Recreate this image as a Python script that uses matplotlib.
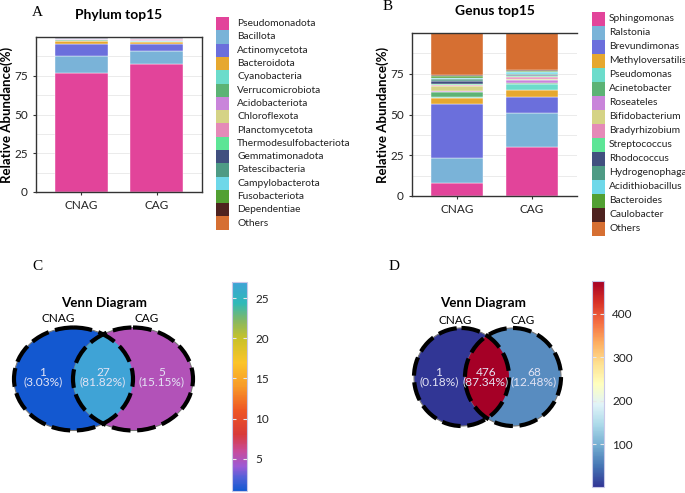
import numpy as np
import matplotlib
matplotlib.use("Agg")
import matplotlib.pyplot as plt
from matplotlib.patches import Ellipse, Rectangle
from matplotlib.colors import LinearSegmentedColormap, Normalize
from matplotlib.cm import ScalarMappable

plt.rcParams['font.family'] = ['Lato', 'DejaVu Sans']

# ---- data ----
groups = ['CNAG', 'CAG']

phylum_names = ['Pseudomonadota', 'Bacillota', 'Actinomycetota', 'Bacteroidota',
                'Cyanobacteria', 'Verrucomicrobiota', 'Acidobacteriota', 'Chloroflexota',
                'Planctomycetota', 'Thermodesulfobacteriota', 'Gemmatimonadota',
                'Patescibacteria', 'Campylobacterota', 'Fusobacteriota', 'Dependentiae', 'Others']
phylum_cnag = [76.5, 11.3, 7.5, 2.1, 0.3, 0.6, 0.2, 0.2, 0.2, 0.1, 0.3, 0.2, 0.1, 0.1, 0.1, 0.2]
phylum_cag = [82.9, 8.1, 4.3, 1.2, 0.8, 0.4, 0.3, 0.2, 0.4, 0.3, 0.3, 0.2, 0.2, 0.1, 0.2, 0.1]

genus_names = ['Sphingomonas', 'Ralstonia', 'Brevundimonas', 'Methyloversatilis',
               'Pseudomonas', 'Acinetobacter', 'Roseateles', 'Bifidobacterium',
               'Bradyrhizobium', 'Streptococcus', 'Rhodococcus', 'Hydrogenophaga',
               'Acidithiobacillus', 'Bacteroides', 'Caulobacter', 'Others']
genus_cnag = [8.0, 15.3, 32.9, 3.9, 0.7, 2.8, 0.6, 3.2, 0.6, 0.5, 1.8, 1.5, 0.5, 1.2, 0.6, 25.9]
genus_cag = [29.9, 21.2, 9.6, 4.5, 3.3, 0.6, 1.9, 0.5, 1.5, 0.7, 0.4, 0.6, 1.3, 0.5, 1.0, 22.5]

# venn: only left, shared, only right
venn_c_counts = [1, 27, 5]
venn_d_counts = [1, 476, 68]

taxa_colors = ['#E2449A', '#7AB3D8', '#6B6FDC', '#E6A82F', '#6CDCCB', '#5CB375',
               '#C985DA', '#D5D386', '#E58AB8', '#5DE596', '#41507F', '#4E9B85',
               '#6ED8E9', '#52A033', '#4E2320', '#D66F32']

W, H = 685, 493
fig = plt.figure(figsize=(W / 100, H / 100), dpi=100)


def px_axes(x0, y0, x1, y1):
    # axes from pixel box (top-left origin)
    return fig.add_axes([x0 / W, 1 - y1 / H, (x1 - x0) / W, (y1 - y0) / H])


def px_text(x, y, s, **kw):
    fig.text(x / W, 1 - y / H, s, **kw)


def stacked_panel(box, names, cnag, cag, title, label_x, right_spine=True):
    ax = px_axes(*box)
    x = np.arange(1, len(groups) + 1)
    data = np.array([cnag, cag]).T
    bottom = np.zeros(len(groups))
    for i in range(len(names)):
        ax.bar(x, data[i], width=0.7, bottom=bottom, color=taxa_colors[i],
               edgecolor='#FFFFFF', linewidth=0.3)
        bottom += data[i]
    ax.set_xlim(0.4, 2.6)
    ax.set_ylim(0, 100)
    ax.set_xticks(x)
    ax.set_xticklabels(groups, fontsize=8.5)
    ax.set_yticks([0, 25, 50, 75])
    ax.set_yticks([12.5, 37.5, 62.5, 87.5], minor=True)
    ax.tick_params(which='major', length=2.5, color='#333333', labelsize=8.5,
                   labelcolor='#222222')
    ax.tick_params(which='minor', length=0)
    ax.grid(axis='y', which='both', color='#EBEBEB', lw=0.7)
    ax.set_axisbelow(True)
    for s in ax.spines.values():
        s.set_color('#333333')
        s.set_linewidth(1.0)
    ax.spines['right'].set_visible(right_spine)
    ax.set_ylabel('Relative Abundance(%)', fontsize=9.5, fontweight='bold')
    # label_x is the pixel column where the rotated label ends on the right
    ax.yaxis.set_label_coords((label_x - box[0]) / (box[2] - box[0]), 0.5)
    ax.set_title(title, fontsize=10, fontweight='bold', pad=13)
    return ax


def legend_block(names, x0, y0, step, size, text_x):
    for i, name in enumerate(names):
        y = y0 + i * step
        fig.add_artist(Rectangle((x0 / W, 1 - (y + step) / H), size / W, step / H,
                                 transform=fig.transFigure, facecolor=taxa_colors[i],
                                 edgecolor='none'))
        px_text(text_x, y + step / 2, name, fontsize=7.4, va='center', ha='left',
                color='#222222')


# ---- A: phylum ----
stacked_panel((36, 37, 202, 192), phylum_names, phylum_cnag, phylum_cag, 'Phylum top15', 13)
legend_block(phylum_names, 216, 17, 13.3, 13, 237)
px_text(37, 12, 'A', fontsize=11, family='Liberation Serif', ha='center', va='center')

# ---- B: genus ----
stacked_panel((412, 33, 577, 196), genus_names, genus_cnag, genus_cag, 'Genus top15', 389,
              right_spine=False)
legend_block(genus_names, 592, 11.7, 14, 12.5, 609)
px_text(388, 7, 'B', fontsize=11, family='Liberation Serif', ha='center', va='center')

# ---- colormaps ----
cmap_c = LinearSegmentedColormap.from_list('venn_c', [
    (0.0, '#1358D0'), (0.06, '#4E60D8'), (0.115, '#9B5AD6'), (0.19, '#C84B9A'),
    (0.27, '#D83A3A'), (0.385, '#EE5526'), (0.5, '#F89A2A'), (0.615, '#FBC42A'),
    (0.73, '#C9C22A'), (0.81, '#8AB85E'), (0.9, '#2FB9B8'), (1.0, '#3FA3D6')])
cmap_d = plt.get_cmap('RdYlBu_r')


def venn_panel(box, counts, cmap, left_e, right_e, title_xy, lab_l, lab_r, txt_x, cy):
    ax = px_axes(*box)
    ax.set_xlim(box[0], box[2])
    ax.set_ylim(box[3], box[1])
    ax.axis('off')
    norm = Normalize(min(counts), max(counts))
    total = sum(counts)
    cols = [cmap(norm(c)) for c in counts]

    el_l = Ellipse(left_e[:2], left_e[2], left_e[3], facecolor=cols[0],
                   edgecolor='#777777', lw=0.8, zorder=1)
    el_r = Ellipse(right_e[:2], right_e[2], right_e[3], facecolor=cols[2],
                   edgecolor='#777777', lw=0.8, zorder=1)
    ax.add_patch(el_l)
    ax.add_patch(el_r)
    mid = Ellipse(right_e[:2], right_e[2], right_e[3], facecolor=cols[1],
                  edgecolor='none', zorder=2)
    ax.add_patch(mid)
    mid.set_clip_path(el_l)
    for e in (left_e, right_e):
        ax.add_patch(Ellipse(e[:2], e[2], e[3], facecolor='none', edgecolor='black',
                             lw=3.0, linestyle=(0, (4.5, 1.6)), zorder=3))

    for x, c in zip(txt_x, counts):
        ax.text(x, cy, f'{c}\n({c / total * 100:.2f}%)', ha='center', va='center',
                fontsize=8.6, color='#E4E4F4', linespacing=0.85, zorder=4)
    ax.text(title_xy[0], title_xy[1], 'Venn Diagram', ha='center', va='center',
            fontsize=9.6, fontweight='bold')
    ax.text(lab_l[0], lab_l[1], 'CNAG', ha='center', va='center', fontsize=8.5)
    ax.text(lab_r[0], lab_r[1], 'CAG', ha='center', va='center', fontsize=8.5)
    return norm


def colorbar_at(box, cmap, norm, ticks):
    cax = px_axes(*box)
    cb = fig.colorbar(ScalarMappable(norm=norm, cmap=cmap), cax=cax, ticks=ticks)
    cb.outline.set_edgecolor('#C8C8E8')
    cb.outline.set_linewidth(0.8)
    cax.tick_params(left=True, right=True, labelleft=False, labelright=True,
                    direction='in', length=3, width=0.8, color='#E8E8E8',
                    labelsize=8.5, labelcolor='#222222', pad=6)


# ---- C ----
norm_c = venn_panel((0, 250, 230, 493), venn_c_counts, cmap_c,
                    (73.5, 379, 119, 103), (133, 379, 120, 103),
                    (104, 303), (58, 319), (147, 319), (43, 103, 162), 377)
colorbar_at((232, 282, 247, 491), cmap_c, norm_c, [5, 10, 15, 20, 25])
px_text(37, 267, 'C', fontsize=11, family='Liberation Serif', ha='center', va='center')

# ---- D ----
norm_d = venn_panel((345, 250, 590, 493), venn_d_counts, cmap_d,
                    (461.5, 377, 95, 98), (513, 377, 96, 98),
                    (483, 303), (455, 320), (523, 320), (439, 486, 534), 377)
colorbar_at((592, 281, 604, 487), cmap_d, norm_d, [100, 200, 300, 400])
px_text(394, 267, 'D', fontsize=11, family='Liberation Serif', ha='center', va='center')

fig.savefig('out.png', dpi=100, facecolor='white')
